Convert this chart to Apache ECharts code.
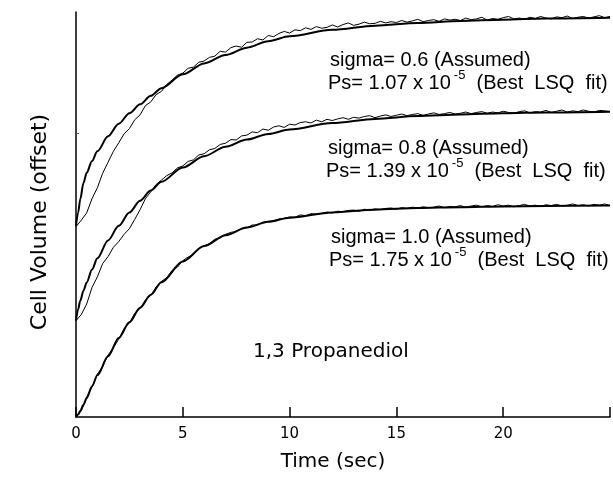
<!DOCTYPE html>
<html>
<head>
<meta charset="utf-8">
<script src="https://cdn.jsdelivr.net/npm/echarts@6/dist/echarts.min.js"></script>
<style>
  html, body { margin: 0; padding: 0; background: #fff; }
  #chart { width: 613px; height: 477px; }
</style>
</head>
<body>
<div id="chart"></div>
<script>
// Time grid of the fitted (model) curves, seconds
const fitTimes = [0, 0.1, 0.2, 0.35, 0.5, 0.75, 1, 1.5, 2, 2.5, 3, 3.5, 4, 5, 6, 7, 8, 9, 10, 12, 14, 16, 18, 20, 22, 25];

// Best LSQ fit curves, cell volume (offset, arbitrary units)
const fitSigma06 = [47.2, 50.5, 53.8, 57.8, 60.3, 63.2, 65.6, 69.3, 72.4, 75.0, 77.2, 79.3, 81.2, 84.6, 87.3, 89.4, 91.2, 92.8, 94.0, 95.6, 96.6, 97.3, 97.8, 98.1, 98.4, 98.6];
const fitSigma08 = [23.8, 26.6, 28.7, 31.2, 33.2, 36.4, 39.2, 43.6, 47.2, 50.5, 53.4, 55.9, 58.1, 61.6, 64.4, 66.7, 68.5, 69.9, 71.0, 72.6, 73.6, 74.3, 74.7, 75.0, 75.2, 75.4];
const fitSigma10 = [0, 0.6, 1.5, 3.0, 4.7, 7.6, 10.3, 15.0, 19.5, 23.4, 27.0, 30.2, 33.3, 38.4, 42.2, 44.9, 46.8, 48.2, 49.2, 50.5, 51.2, 51.6, 51.8, 52.0, 52.1, 52.2];

// Sampling times of the measured traces, seconds
const sampleTimes = [0, 0.25, 0.5, 0.75, 1, 1.25, 1.5, 1.75, 2, 2.25, 2.5, 2.75, 3, 3.25, 3.5, 3.75, 4, 4.25, 4.5, 4.75,
  5, 5.25, 5.5, 5.75, 6, 6.25, 6.5, 6.75, 7, 7.25, 7.5, 7.75, 8, 8.25, 8.5, 8.75, 9, 9.25, 9.5, 9.75,
  10, 10.25, 10.5, 10.75, 11, 11.25, 11.5, 11.75, 12, 12.25, 12.5, 12.75, 13, 13.25, 13.5, 13.75, 14, 14.25, 14.5, 14.75,
  15, 15.25, 15.5, 15.75, 16, 16.25, 16.5, 16.75, 17, 17.25, 17.5, 17.75, 18, 18.25, 18.5, 18.75, 19, 19.25, 19.5, 19.75,
  20, 20.25, 20.5, 20.75, 21, 21.25, 21.5, 21.75, 22, 22.25, 22.5, 22.75, 23, 23.25, 23.5, 23.75, 24, 24.25, 24.5, 24.75, 25];

// Measured cell volume traces (offset)
const dataSigma06 = [47.0, 48.6, 50.4, 53.9, 56.6, 60.2, 62.9, 65.6, 67.7, 69.9, 71.2, 73.4, 74.6, 76.9, 77.8, 79.6, 80.4, 82.1, 83.2, 84.4,
  84.9, 86.1, 86.4, 87.6, 87.9, 88.8, 89.1, 90.3, 90.1, 91.2, 91.6, 91.3, 92.5, 92.6, 93.4, 93.1, 94.2, 93.9, 94.7, 95.2,
  94.8, 95.6, 95.4, 96.1, 95.7, 96.4, 96.0, 96.2, 96.8, 96.3, 96.9, 97.3, 96.7, 97.0, 97.5, 97.1, 97.2, 97.7, 97.3, 97.6,
  97.4, 97.9, 97.5, 97.8, 98.2, 97.6, 97.9, 98.1, 97.7, 98.3, 98.0, 98.2, 97.9, 98.5, 98.1, 98.3, 98.7, 98.0, 98.4, 98.2,
  98.6, 98.9, 98.3, 98.5, 98.2, 98.7, 98.4, 98.9, 98.5, 98.3, 98.8, 98.6, 99.0, 98.4, 98.7, 98.9, 98.5, 98.8, 99.1, 98.6, 98.9];
const dataSigma08 = [23.8, 25.3, 27.9, 32.0, 34.6, 37.9, 39.6, 41.9, 43.3, 45.1, 46.5, 48.8, 51.2, 53.9, 55.6, 57.4, 58.5, 59.6, 60.3, 61.5,
  62.0, 63.1, 63.5, 64.7, 65.0, 66.0, 66.3, 67.3, 67.6, 68.5, 68.4, 69.4, 69.6, 70.4, 70.2, 71.1, 70.8, 71.6, 71.9, 71.5,
  72.3, 72.1, 72.7, 72.9, 72.6, 73.3, 72.9, 73.5, 73.2, 73.6, 73.9, 73.5, 74.0, 73.8, 74.2, 74.4, 73.9, 74.3, 74.6, 74.2,
  74.5, 74.8, 74.4, 74.7, 74.9, 74.5, 74.8, 75.1, 74.7, 74.9, 75.2, 74.8, 75.0, 75.3, 74.9, 75.2, 75.4, 75.0, 75.3, 75.1,
  75.5, 75.2, 75.0, 75.4, 75.6, 75.1, 75.4, 75.3, 75.7, 75.2, 75.5, 75.8, 75.3, 75.6, 75.4, 75.8, 75.5, 75.3, 75.7, 75.6, 75.4];
const dataSigma10 = [0.2, 1.5, 4.9, 7.4, 10.6, 12.5, 15.3, 17.1, 19.2, 21.8, 23.2, 25.6, 26.8, 28.9, 30.0, 32.1, 33.5, 34.4, 36.2, 37.0,
  38.6, 39.5, 40.1, 41.6, 42.3, 42.8, 43.9, 44.2, 45.1, 45.6, 45.8, 46.6, 46.7, 47.4, 47.4, 48.1, 48.3, 48.4, 48.9, 49.0,
  49.4, 49.3, 49.9, 49.7, 50.2, 50.1, 50.3, 50.6, 50.4, 50.8, 50.7, 51.0, 51.1, 50.8, 51.3, 51.1, 51.4, 51.2, 51.5, 51.6,
  51.3, 51.7, 51.5, 51.8, 51.6, 51.9, 51.7, 51.8, 52.1, 51.7, 52.0, 51.9, 52.2, 51.8, 52.1, 52.3, 51.9, 52.2, 52.0, 52.4,
  52.1, 52.3, 51.9, 52.2, 52.5, 52.1, 52.3, 52.0, 52.4, 52.2, 52.5, 52.1, 52.3, 52.6, 52.2, 52.4, 52.1, 52.5, 52.3, 52.6, 52.2];

// Annotation texts
const sigmaLabels = ['sigma= 0.6 (Assumed)', 'sigma= 0.8 (Assumed)', 'sigma= 1.0 (Assumed)'];
const psValues = ['1.07', '1.39', '1.75'];
const compoundName = '1,3 Propanediol';
const xTitle = 'Time (sec)';
const yTitle = 'Cell Volume (offset)';

const pairs = (xs, ys) => xs.map((x, i) => [x, ys[i]]);

const BLACK = '#000';
const labelFont = "'Liberation Sans', Arial, Helvetica, sans-serif";
const titleFont = "'DejaVu Sans', sans-serif";

function fitSeries(values) {
  return {
    type: 'line', data: pairs(fitTimes, values), showSymbol: false,
    smooth: 0.3, smoothMonotone: 'x',
    lineStyle: { color: BLACK, width: 2 }, z: 3, silent: true
  };
}
function dataSeries(values) {
  return {
    type: 'line', data: pairs(sampleTimes, values), showSymbol: false,
    lineStyle: { color: BLACK, width: 1 }, z: 2, silent: true
  };
}

// Two-line annotation block: sigma line and Ps line with a superscript exponent
function annotation(i, x, y) {
  return [
    {
      type: 'text', x: x + 2, y: y,
      style: { text: sigmaLabels[i], fill: BLACK, font: '20px ' + labelFont, align: 'left', verticalAlign: 'middle' }
    },
    {
      type: 'text', x: x, y: y + 23,
      style: {
        text: '{n|Ps= ' + psValues[i] + ' x 10}{s|-5}{n|  (Best  LSQ  fit)}',
        fill: BLACK, align: 'left', verticalAlign: 'middle',
        rich: {
          n: { fontSize: 20, fontFamily: labelFont, fill: BLACK },
          s: { fontSize: 13, fontFamily: labelFont, fill: BLACK, padding: [0, 0, 16, 3] }
        }
      }
    }
  ];
}

const chart = echarts.init(document.getElementById('chart'), null, { renderer: 'canvas' });
chart.setOption({
  animation: false,
  backgroundColor: '#fff',
  grid: { left: 76, right: 1, top: 12, bottom: 58, containLabel: false },
  xAxis: {
    type: 'value', min: 0, max: 25, interval: 5,
    name: xTitle, nameLocation: 'middle', nameGap: 35,
    nameTextStyle: { fontSize: 20, fontFamily: titleFont, color: BLACK, padding: [0, 0, 0, -20] },
    axisLine: { lineStyle: { color: BLACK, width: 1.5 } },
    axisTick: { inside: true, length: 10, lineStyle: { color: BLACK, width: 1.5 } },
    axisLabel: {
      margin: 10, fontSize: 15, fontFamily: titleFont, color: BLACK,
      formatter: v => (v >= 25 ? '' : String(v))
    },
    splitLine: { show: false }
  },
  yAxis: {
    type: 'value', min: 0, max: 100,
    axisLine: { show: true, lineStyle: { color: BLACK, width: 1.5 } },
    axisTick: { show: true, inside: true, length: 3, customValues: [70], lineStyle: { color: '#555', width: 1 } },
    axisLabel: { show: false },
    splitLine: { show: false }
  },
  series: [
    dataSeries(dataSigma06), fitSeries(fitSigma06),
    dataSeries(dataSigma08), fitSeries(fitSigma08),
    dataSeries(dataSigma10), fitSeries(fitSigma10)
  ],
  graphic: [
    ...annotation(0, 328, 60),
    ...annotation(1, 326, 148),
    ...annotation(2, 329, 237),
    {
      type: 'text', x: 253, y: 352,
      style: { text: compoundName, fill: BLACK, font: '20px ' + titleFont, align: 'left', verticalAlign: 'middle' }
    },
    {
      type: 'text', x: 40, y: 222, rotation: Math.PI / 2,
      style: { text: yTitle, fill: BLACK, font: '22px ' + titleFont, align: 'center', verticalAlign: 'middle' }
    }
  ]
});
</script>
</body>
</html>
